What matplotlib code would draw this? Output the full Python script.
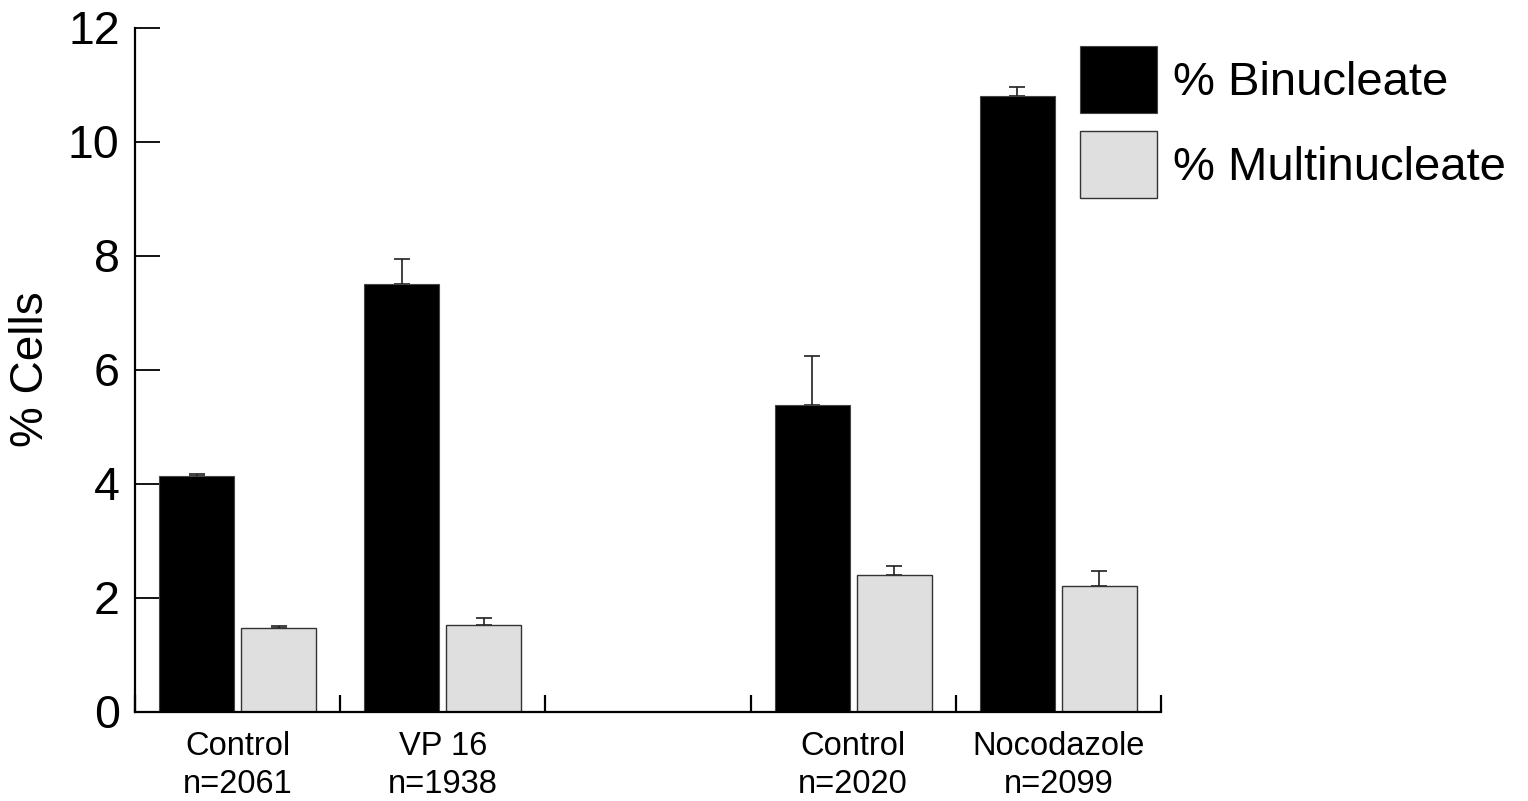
import numpy as np
import matplotlib
matplotlib.use('Agg')
import matplotlib.pyplot as plt

plt.rcParams['font.family'] = ['Liberation Sans', 'DejaVu Sans']

# data
groups = ['Control', 'VP 16', 'Control', 'Nocodazole']
counts = ['n=2061', 'n=1938', 'n=2020', 'n=2099']
slots = [0, 1, 3, 4]  # slot 2 is left empty
binucleate = [4.14, 7.50, 5.37, 10.79]
binucleate_err = [0.03, 0.44, 0.87, 0.17]
multinucleate = [1.47, 1.51, 2.39, 2.20]
multinucleate_err = [0.035, 0.135, 0.16, 0.265]

W, H = 1528, 801
fig = plt.figure(figsize=(W / 100, H / 100), dpi=100)
ax = fig.add_axes([135 / W, (H - 711.5) / H, (1161 - 135) / W, 684 / H])

x = np.array(slots, dtype=float)
bw = 0.365
err_kw = dict(fmt='none', ecolor='#231f20', elinewidth=1.2, capsize=5.8, capthick=1.2, zorder=1)

# error bars go behind the bars so only the upper half shows
ax.errorbar(x - 0.2, binucleate, yerr=[np.zeros(len(binucleate)), binucleate_err], **err_kw)
ax.errorbar(x + 0.2, multinucleate, yerr=[np.zeros(len(multinucleate)), multinucleate_err], **err_kw)

ax.bar(x - 0.2, binucleate, bw, color='black', edgecolor='#444444', linewidth=0.8,
       label='% Binucleate', zorder=2)
ax.bar(x + 0.2, multinucleate, bw, color='#dfdfdf', edgecolor='#333333', linewidth=1.0,
       label='% Multinucleate', zorder=2)

ax.set_xlim(-0.5, 4.5)
ax.set_ylim(0, 12)

for s in ['top', 'right']:
    ax.spines[s].set_visible(False)
for s in ['left', 'bottom']:
    ax.spines[s].set_linewidth(1.6)
    ax.spines[s].set_zorder(3)

ax.set_yticks(np.arange(0, 13, 2))
ax.tick_params(axis='y', direction='in', length=18, width=1.3, labelsize=33.5, pad=11)

# boundary ticks on x, labels at slot centres
ax.set_xticks(np.arange(-0.5, 5, 1.0))
ax.set_xticklabels([])
ax.tick_params(axis='x', which='major', direction='in', length=12, width=1.6)
ax.set_xticks(x, minor=True)
ax.set_xticklabels([f'{g}\n{c}' for g, c in zip(groups, counts)], minor=True,
                   fontsize=23.5, linespacing=1.3)
ax.tick_params(axis='x', which='minor', length=0, pad=14)

ax.set_ylabel('% Cells', fontsize=33, labelpad=11)

ax.legend(loc='upper left', bbox_to_anchor=(0.921, 0.973), frameon=False,
          fontsize=34, handlelength=1.63, handleheight=1.81, handletextpad=0.34,
          labelspacing=0.38, borderpad=0, borderaxespad=0)

fig.savefig('out.png', dpi=100)
